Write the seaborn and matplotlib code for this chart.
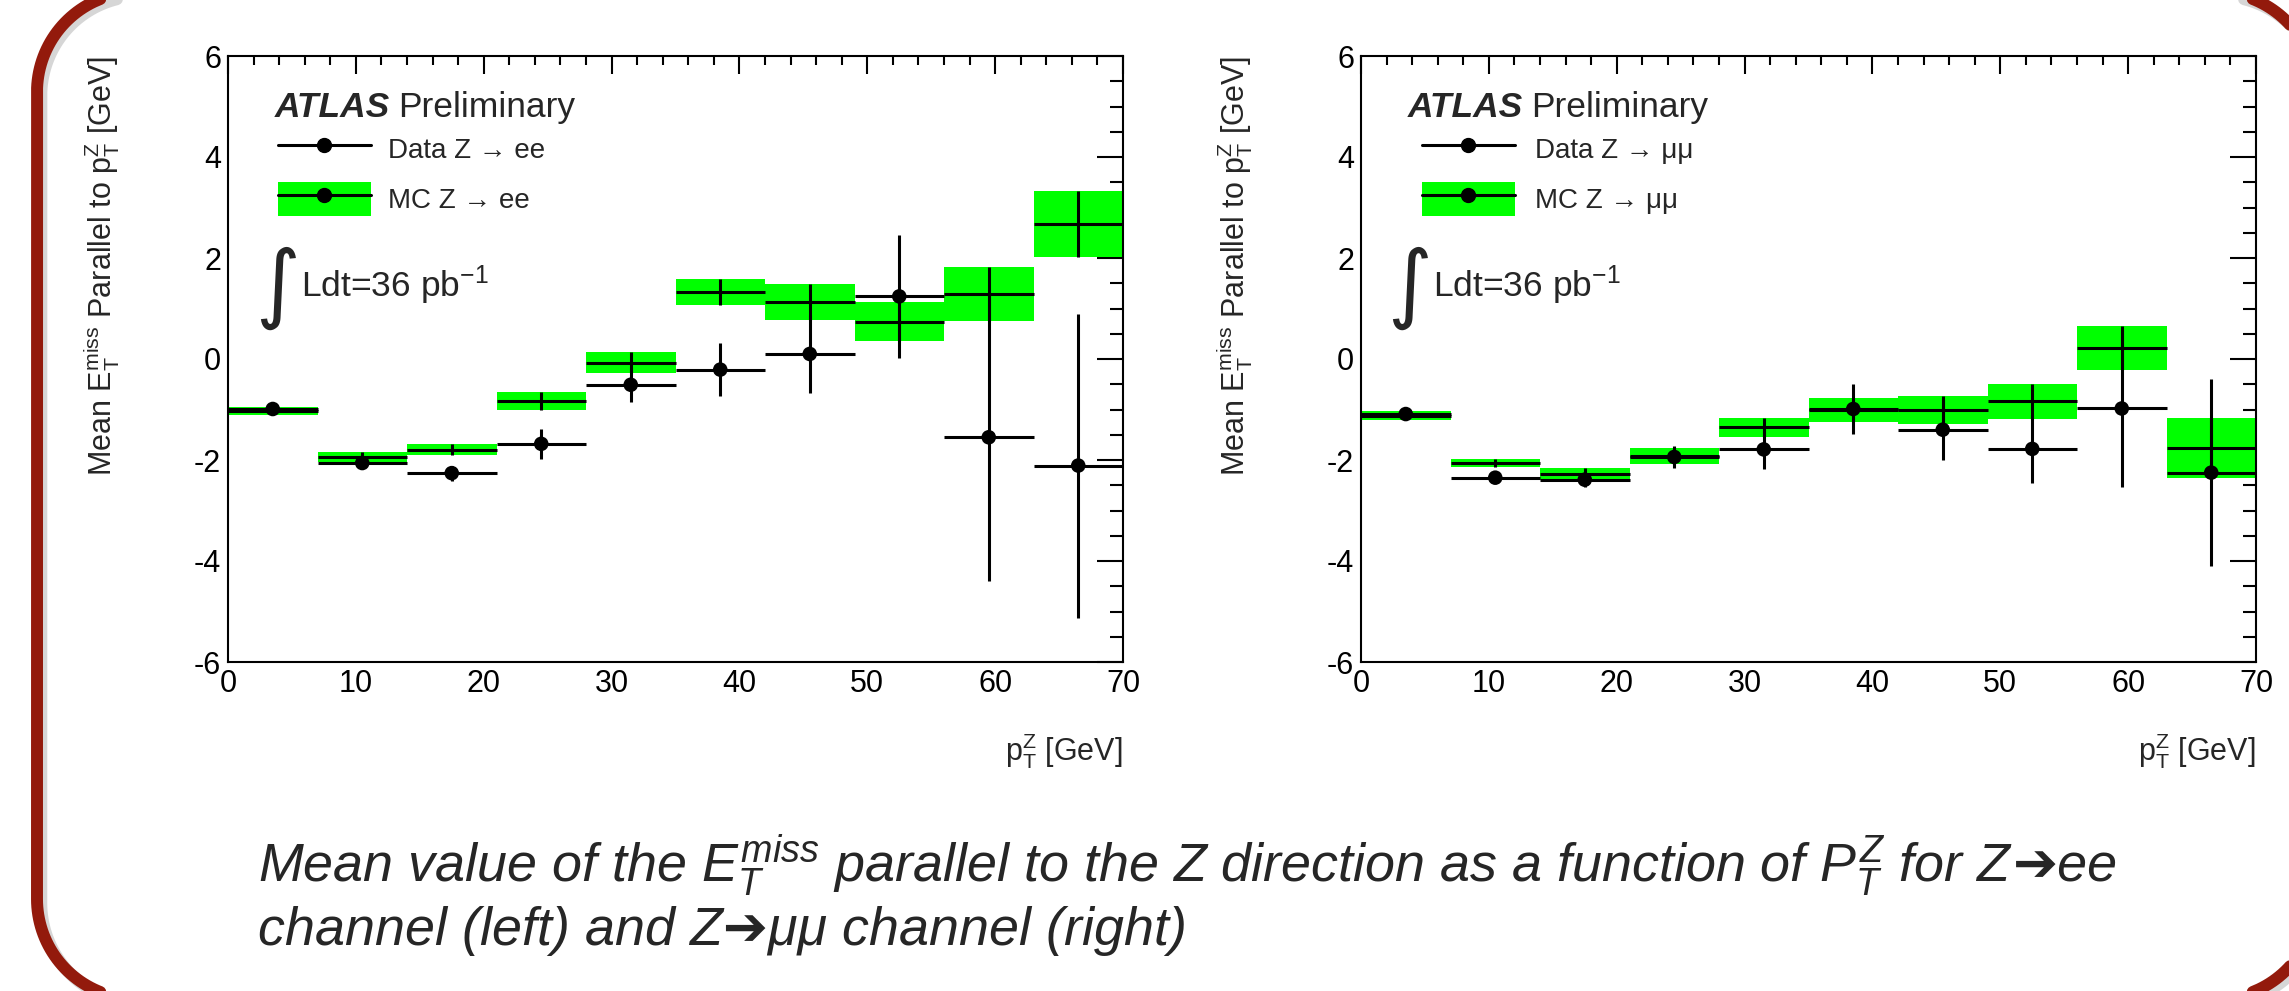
import numpy as np
import matplotlib
matplotlib.use("Agg")
import matplotlib.pyplot as plt
import seaborn as sns
from matplotlib.patches import Patch
from matplotlib.lines import Line2D
from matplotlib.ticker import MultipleLocator

# ---------------- data ----------------
bin_edges = [0, 7, 14, 21, 28, 35, 42, 49, 56, 63, 70]

ee_data = [-0.99, -2.06, -2.26, -1.68, -0.51, -0.21, 0.10, 1.24, -1.55, -2.11]
ee_data_err = [0.05, 0.12, 0.15, 0.30, 0.35, 0.52, 0.77, 1.22, 2.85, 3.01]
ee_mc = [-1.03, -1.94, -1.80, -0.83, -0.07, 1.32, 1.13, 0.74, 1.29, 2.67]
ee_mc_err = [0.07, 0.09, 0.11, 0.17, 0.21, 0.26, 0.36, 0.39, 0.54, 0.66]

mm_data = [-1.09, -2.35, -2.39, -1.94, -1.79, -0.99, -1.40, -1.78, -0.98, -2.25]
mm_data_err = [0.05, 0.06, 0.15, 0.22, 0.39, 0.49, 0.60, 0.68, 1.55, 1.85]
mm_mc = [-1.12, -2.06, -2.27, -1.92, -1.35, -1.01, -1.01, -0.84, 0.22, -1.76]
mm_mc_err = [0.09, 0.07, 0.12, 0.15, 0.19, 0.23, 0.28, 0.35, 0.43, 0.60]

x_ticks = [0, 10, 20, 30, 40, 50, 60, 70]
y_ticks = [-6, -4, -2, 0, 2, 4, 6]

data_labels = ["Data Z \u2192 ee", "Data Z \u2192 \u03bc\u03bc"]
mc_labels = ["MC Z \u2192 ee", "MC Z \u2192 \u03bc\u03bc"]

caption_line1a = (r"Mean value of the $E_T^{miss}$ parallel to the Z direction "
                  r"as a function of $P_T^Z$ for Z")
caption_line1b = "\u2794ee"
caption_line2 = "channel (left) and Z\u2794\u03bc\u03bc channel (right)"

# ---------------- style ----------------
sns.set_theme(style="white")
plt.rcParams["font.family"] = ["Liberation Sans", "DejaVu Sans"]
plt.rcParams["mathtext.fontset"] = "custom"
plt.rcParams["mathtext.rm"] = "Liberation Sans"
plt.rcParams["mathtext.it"] = "Liberation Sans:italic"
plt.rcParams["mathtext.bf"] = "Liberation Sans:bold"
plt.rcParams["axes.unicode_minus"] = False

W, H = 2289, 991
DPI = 100
fig = plt.figure(figsize=(W / DPI, H / DPI), dpi=DPI)
fig.patch.set_facecolor("white")

# background axes in pixel units for the rounded slide frame
bg = fig.add_axes([0, 0, 1, 1], zorder=-5)
bg.set_xlim(0, W)
bg.set_ylim(H, 0)
bg.axis("off")


def rounded_rect(x0, y0, x1, y1, r, n=40):
    pts = []
    corners = [((x1 - r, y0 + r), -90, 0), ((x1 - r, y1 - r), 0, 90),
               ((x0 + r, y1 - r), 90, 180), ((x0 + r, y0 + r), 180, 270)]
    for (cx, cy), a0, a1 in corners:
        t = np.radians(np.linspace(a0, a1, n))
        pts.append(np.column_stack([cx + r * np.cos(t), cy + r * np.sin(t)]))
    p = np.vstack(pts + [pts[0][:1]])
    return p[:, 0], p[:, 1]


fx, fy = rounded_rect(37, -8, 2316, 999, 100)
bg.plot(fx + 4, fy + 4, color="#8a8a8a", lw=9, alpha=0.35,
        solid_joinstyle="round", clip_on=False)
bg.plot(fx, fy, color="#931a0c", lw=8.6, solid_joinstyle="round",
        clip_on=False)

GREEN = "#00ff00"
LW = 2.2

ax_w = 895 / W
ax_h = 606 / H
ax_b = 1 - 662 / H
axes_left = [228 / W, 1361 / W]

edges = np.array(bin_edges, dtype=float)
centers = 0.5 * (edges[:-1] + edges[1:])
widths = np.diff(edges)

panels = [
    (ee_data, ee_data_err, ee_mc, ee_mc_err),
    (mm_data, mm_data_err, mm_mc, mm_mc_err),
]

for i, (d, de, m, me) in enumerate(panels):
    ax = fig.add_axes([axes_left[i], ax_b, ax_w, ax_h])
    d = np.array(d); de = np.array(de); m = np.array(m); me = np.array(me)

    # MC band
    ax.bar(edges[:-1], 2 * me, bottom=m - me, width=widths, align="edge",
           color=GREEN, linewidth=0, zorder=1)
    ax.errorbar(centers, m, xerr=widths / 2, yerr=me, fmt="none",
                ecolor="black", elinewidth=LW, capsize=0, zorder=2)
    # Data
    ax.errorbar(centers, d, xerr=widths / 2, yerr=de, fmt="none",
                ecolor="black", elinewidth=LW, capsize=0, zorder=3)
    sns.scatterplot(x=centers, y=d, ax=ax, color="black", s=110,
                    edgecolor="none", zorder=4, legend=False)

    ax.set_xlim(0, 70)
    ax.set_ylim(-6, 6)
    ax.set_xticks(x_ticks)
    ax.set_yticks(y_ticks)
    ax.set_xticklabels([str(t) for t in x_ticks])
    ax.set_yticklabels([str(t) for t in y_ticks])
    ax.xaxis.set_minor_locator(MultipleLocator(2))
    ax.yaxis.set_minor_locator(MultipleLocator(0.5))
    ax.tick_params(which="both", direction="in", top=True, right=True,
                   width=1.5, color="black", labelsize=22, labelcolor="black")
    ax.tick_params(axis="x", which="major", length=13, pad=5)
    ax.tick_params(axis="x", which="minor", length=6.5)
    ax.tick_params(axis="y", which="major", length=18.7, pad=5)
    ax.tick_params(axis="y", which="minor", length=9.4)
    for s in ax.spines.values():
        s.set_visible(True)
        s.set_color("black")
        s.set_linewidth(1.5)
    ax.set_facecolor("white")
    ax.grid(False)

    ax.set_xlabel(r"$\mathrm{p}_{\mathrm{T}}^{\mathrm{Z}}$ [GeV]", fontsize=22,
                  loc="right")
    ax.xaxis.set_label_coords(1.0, -0.115)
    ax.set_ylabel(r"Mean $\mathrm{E}_{\mathrm{T}}^{\mathrm{miss}}$ Parallel to "
                  r"$\mathrm{p}_{\mathrm{T}}^{\mathrm{Z}}$ [GeV]", fontsize=22,
                  loc="top")
    ax.yaxis.set_label_coords(-0.118, 1.0)

    # ATLAS Preliminary
    atl = ax.text(0.0525, 0.8993, "ATLAS", transform=ax.transAxes,
                  fontsize=25.5, fontweight="bold", fontstyle="italic",
                  va="baseline", ha="left")
    ax.annotate("Preliminary", xy=(1, 0), xycoords=atl, xytext=(6, 0),
                textcoords="offset points", fontsize=25.5, va="bottom",
                ha="left")

    # legend
    h_data = Line2D([], [], color="black", lw=LW, marker="o", markersize=10)
    h_mc = (Patch(facecolor=GREEN, edgecolor="none"),
            Line2D([], [], color="black", lw=LW, marker="o", markersize=10))
    leg_x = [0.0559, 0.0682][i]
    ax.legend([h_data, h_mc], [data_labels[i], mc_labels[i]],
              loc="upper left", bbox_to_anchor=(leg_x, 0.8746),
              frameon=False, fontsize=20, handlelength=3.33,
              handleheight=1.52, handletextpad=[0.62, 0.75][i],
              labelspacing=0.57, borderpad=0, borderaxespad=0, numpoints=1)

    # integrated luminosity
    lx = [0.0816, 0.0804][i]
    ax.text(lx - 0.001, 0.548, "\u222b", transform=ax.transAxes, fontsize=62,
            family="DejaVu Sans", fontstyle="italic", va="bottom", ha="right")
    ax.text(lx, 0.602, r"Ldt=36 pb$^{\mathrm{-1}}$",
            transform=ax.transAxes, fontsize=25.5, va="baseline", ha="left")

# caption
CAP = 38.8
t1 = fig.text(258 / W, 1 - 882 / H, caption_line1a, fontsize=CAP,
              fontstyle="italic", va="baseline", ha="left")
fig.text(258 / W, 1 - 945 / H, caption_line2, fontsize=CAP,
         fontstyle="italic", va="baseline", ha="left")
fig.canvas.draw()
bb = t1.get_window_extent(renderer=fig.canvas.get_renderer())
fig.text(bb.x1 / W, 1 - 882 / H, caption_line1b, fontsize=CAP,
         fontstyle="italic", va="baseline", ha="left")

fig.savefig("out.png", dpi=DPI, facecolor="white")
